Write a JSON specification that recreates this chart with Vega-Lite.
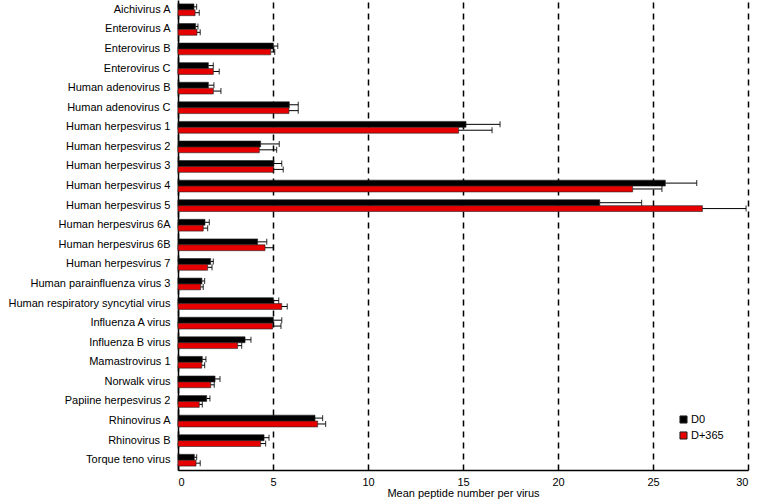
{
  "$schema": "https://vega.github.io/schema/vega-lite/v6.json",
  "width": 570,
  "height": 470,
  "autosize": "none",
  "padding": {"left": 178, "top": 0, "right": 9, "bottom": 32},
  "background": "white",
  "config": {
    "font": "Liberation Sans",
    "view": {"stroke": null},
    "axis": {"labelColor": "black", "titleColor": "black", "labelFont": "Liberation Sans", "titleFont": "Liberation Sans"}
  },
  "data": {
    "values": [
      {"virus": "Aichivirus A", "time": "D0", "value": 0.84, "err": 0.98},
      {"virus": "Aichivirus A", "time": "D+365", "value": 0.9, "err": 1.12},
      {"virus": "Enterovirus A", "time": "D0", "value": 0.93, "err": 1.05},
      {"virus": "Enterovirus A", "time": "D+365", "value": 1.0, "err": 1.17},
      {"virus": "Enterovirus B", "time": "D0", "value": 5.02, "err": 5.25},
      {"virus": "Enterovirus B", "time": "D+365", "value": 4.88, "err": 5.09},
      {"virus": "Enterovirus C", "time": "D0", "value": 1.6, "err": 1.86},
      {"virus": "Enterovirus C", "time": "D+365", "value": 1.86, "err": 2.17},
      {"virus": "Human adenovirus B", "time": "D0", "value": 1.6, "err": 1.89},
      {"virus": "Human adenovirus B", "time": "D+365", "value": 1.86, "err": 2.26},
      {"virus": "Human adenovirus C", "time": "D0", "value": 5.86, "err": 6.33},
      {"virus": "Human adenovirus C", "time": "D+365", "value": 5.84, "err": 6.33},
      {"virus": "Human herpesvirus 1", "time": "D0", "value": 15.16, "err": 16.95},
      {"virus": "Human herpesvirus 1", "time": "D+365", "value": 14.77, "err": 16.53},
      {"virus": "Human herpesvirus 2", "time": "D0", "value": 4.35, "err": 5.33},
      {"virus": "Human herpesvirus 2", "time": "D+365", "value": 4.28, "err": 5.19},
      {"virus": "Human herpesvirus 3", "time": "D0", "value": 5.05, "err": 5.46},
      {"virus": "Human herpesvirus 3", "time": "D+365", "value": 5.02, "err": 5.54},
      {"virus": "Human herpesvirus 4", "time": "D0", "value": 25.65, "err": 27.3},
      {"virus": "Human herpesvirus 4", "time": "D+365", "value": 23.93, "err": 25.47},
      {"virus": "Human herpesvirus 5", "time": "D0", "value": 22.2, "err": 24.4},
      {"virus": "Human herpesvirus 5", "time": "D+365", "value": 27.6, "err": 29.9},
      {"virus": "Human herpesvirus 6A", "time": "D0", "value": 1.42, "err": 1.65},
      {"virus": "Human herpesvirus 6A", "time": "D+365", "value": 1.33, "err": 1.56},
      {"virus": "Human herpesvirus 6B", "time": "D0", "value": 4.19, "err": 4.67},
      {"virus": "Human herpesvirus 6B", "time": "D+365", "value": 4.58, "err": 5.02},
      {"virus": "Human herpesvirus 7", "time": "D0", "value": 1.72, "err": 1.86},
      {"virus": "Human herpesvirus 7", "time": "D+365", "value": 1.56, "err": 1.79},
      {"virus": "Human parainfluenza virus 3", "time": "D0", "value": 1.26, "err": 1.4},
      {"virus": "Human parainfluenza virus 3", "time": "D+365", "value": 1.19, "err": 1.33},
      {"virus": "Human respiratory syncytial virus", "time": "D0", "value": 5.02, "err": 5.3},
      {"virus": "Human respiratory syncytial virus", "time": "D+365", "value": 5.46, "err": 5.75},
      {"virus": "Influenza A virus", "time": "D0", "value": 5.02, "err": 5.46},
      {"virus": "Influenza A virus", "time": "D+365", "value": 4.98, "err": 5.42},
      {"virus": "Influenza B virus", "time": "D0", "value": 3.53, "err": 3.84},
      {"virus": "Influenza B virus", "time": "D+365", "value": 3.14, "err": 3.35},
      {"virus": "Mamastrovirus 1", "time": "D0", "value": 1.28, "err": 1.47},
      {"virus": "Mamastrovirus 1", "time": "D+365", "value": 1.25, "err": 1.4},
      {"virus": "Norwalk virus", "time": "D0", "value": 1.95, "err": 2.21},
      {"virus": "Norwalk virus", "time": "D+365", "value": 1.72, "err": 1.91},
      {"virus": "Papiine herpesvirus 2", "time": "D0", "value": 1.51, "err": 1.68},
      {"virus": "Papiine herpesvirus 2", "time": "D+365", "value": 1.12, "err": 1.28},
      {"virus": "Rhinovirus A", "time": "D0", "value": 7.21, "err": 7.61},
      {"virus": "Rhinovirus A", "time": "D+365", "value": 7.35, "err": 7.77},
      {"virus": "Rhinovirus B", "time": "D0", "value": 4.53, "err": 4.79},
      {"virus": "Rhinovirus B", "time": "D+365", "value": 4.35, "err": 4.61},
      {"virus": "Torque teno virus", "time": "D0", "value": 0.86, "err": 0.98},
      {"virus": "Torque teno virus", "time": "D+365", "value": 0.95, "err": 1.17}
    ]
  },
  "encoding": {
    "y": {
      "field": "virus", "type": "nominal", "sort": null,
      "scale": {"paddingInner": 0.4, "paddingOuter": 0.2},
      "axis": {"title": null, "labelFontSize": 11, "labelPadding": 8, "ticks": false, "domainColor": "black", "domainWidth": 1.5, "labelLimit": 200}
    },
    "yOffset": {"field": "time", "type": "nominal", "sort": ["D0", "D+365"]}
  },
  "layer": [
    {
      "mark": {"type": "bar", "stroke": "#222222", "strokeWidth": 0.6},
      "encoding": {
        "x": {
          "field": "value", "type": "quantitative",
          "scale": {"domain": [0, 30], "nice": false},
          "axis": {
            "values": [0, 5, 10, 15, 20, 25, 30],
            "title": "Mean peptide number per virus",
            "titleFontSize": 11, "titleFontWeight": "normal", "titlePadding": 0,
            "labelFontSize": 11, "labelPadding": 6, "ticks": false,
            "domainColor": "black", "domainWidth": 1.5,
            "grid": true, "gridColor": "black", "gridDash": [6, 5], "gridWidth": 1.5
          }
        },
        "color": {
          "field": "time", "type": "nominal",
          "scale": {"domain": ["D0", "D+365"], "range": ["#000000", "#e60000"]},
          "legend": {
            "title": null, "orient": "none", "legendX": 500, "legendY": 414,
            "symbolType": "square", "symbolSize": 50, "symbolStrokeColor": "#222222", "symbolStrokeWidth": 1,
            "labelFontSize": 11, "labelColor": "black", "rowPadding": 3, "labelOffset": 2
          }
        }
      }
    },
    {
      "mark": {"type": "rule", "color": "black", "strokeWidth": 1},
      "encoding": {
        "x": {"field": "value", "type": "quantitative"},
        "x2": {"field": "err"}
      }
    },
    {
      "mark": {"type": "tick", "color": "black", "orient": "vertical", "thickness": 1.2, "size": 6},
      "encoding": {
        "x": {"field": "err", "type": "quantitative"}
      }
    }
  ]
}
